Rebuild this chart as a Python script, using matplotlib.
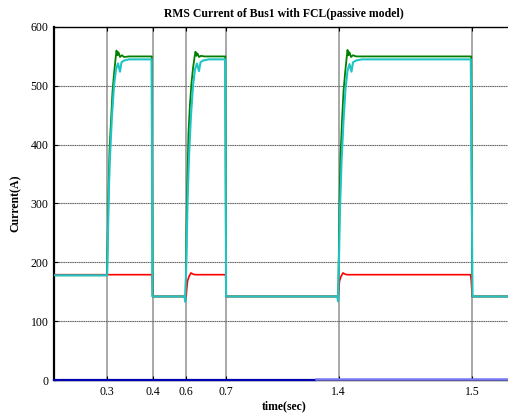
import numpy as np
import matplotlib
matplotlib.use("Agg")
import matplotlib.pyplot as plt

plt.rcParams.update({
    "font.family": "serif",
    "font.serif": ["Liberation Serif", "DejaVu Serif"],
    "font.size": 8.5,
})

# x is in sample units along the record; ticks carry the event times
tick_x = [53, 98.5, 132, 172, 284.5, 418, 460]
tick_labels = ["0.3", "0.4", "0.6", "0.7", "1.4", "1.5", "1.6"]

green_x = [0, 53, 53.5, 54.5, 55.5, 57, 58.5, 60, 61.5, 62.5, 63.5, 64.5, 66, 68, 70, 75,
           97.8, 98.6, 130.8, 131.4, 132, 132.5, 133.5, 134.5, 136, 137.5, 139, 140.5, 141.5,
           142.5, 143.5, 145, 147, 150, 171.3, 172.1, 283.6, 284.2, 284.7, 285.5, 286.5, 288,
           289.5, 291, 292.5, 293.5, 294.5, 295.5, 297, 299, 302, 417.2, 418.2, 460]
green_y = [178, 178, 230, 320, 390, 440, 490, 520, 545, 560, 552, 557, 549, 552, 549, 550,
           550, 142, 142, 136, 180, 260, 350, 420, 470, 505, 530, 548, 558,
           551, 555, 549, 551, 550, 550, 142, 142, 137, 200, 300, 380, 440,
           490, 520, 545, 561, 552, 557, 549, 552, 550, 550, 142, 142]

cyan_x = [0, 53.2, 54, 55, 56, 58, 60, 62, 64, 66, 67.5, 70, 75, 97.6, 98.5, 130.5, 131.2,
          132.2, 133.5, 135, 137, 139, 141, 143, 145, 146.5, 149, 155, 171.2, 172.1, 283.3,
          284, 284.8, 286, 287.5, 289.5, 291.5, 293.5, 295.5, 297.5, 299, 302, 308, 416.8,
          418.5, 460]
cyan_y = [178, 178, 250, 330, 380, 450, 500, 528, 538, 524, 540, 543, 545, 545, 142, 142, 133,
          190, 300, 380, 450, 500, 528, 538, 525, 540, 543, 545, 545, 142, 142,
          134, 190, 290, 370, 440, 495, 525, 537, 524, 540, 543, 545, 545,
          142, 142]

red_x = [0, 98.4, 98.8, 132.2, 132.6, 133.5, 135, 137, 139, 141, 171.6, 172.3, 284.2, 284.6,
         285.5, 287, 289, 291, 293, 416.5, 417.2, 418.2, 460]
red_y = [179, 179, 142, 142, 152, 168, 176, 182, 180, 179, 179, 142, 142, 152,
         168, 176, 182, 180, 179, 179, 170, 142, 142]

blue_x = [0, 262]
blue_y = [0, 0]
lblue_x = [262, 460]
lblue_y = [1.2, 1.2]

fig = plt.figure(figsize=(5.08, 4.15), dpi=100)
ax = fig.add_axes([54 / 508, 35 / 415, 460 / 508, 353 / 415])

ax.plot(green_x, green_y, color="#008000", lw=1.3, zorder=3)
ax.plot(red_x, red_y, color="#ff0000", lw=1.2, zorder=3)
ax.plot(cyan_x, cyan_y, color="#1fc4c4", lw=1.5, zorder=4)
ax.plot(blue_x, blue_y, color="#0000b0", lw=1.6, zorder=5, clip_on=False)
ax.plot(lblue_x, lblue_y, color="#7878f0", lw=1.8, zorder=5, clip_on=False)

ax.set_xlim(0, 460)
ax.set_ylim(0, 600)
ax.set_xticks(tick_x)
ax.set_xticklabels(tick_labels)
ax.set_yticks([0, 100, 200, 300, 400, 500, 600])

for x in tick_x:
    ax.axvline(x, color="#a8a8a8", lw=1.4, zorder=1)
for y in [100, 200, 300, 400, 500]:
    ax.axhline(y, color="#6a6a6a", lw=0.8, ls=(0, (1.5, 0.5)), zorder=1)

ax.tick_params(direction="in", length=3, width=0.8, top=True, right=True, pad=4)
for side in ["left", "bottom", "top", "right"]:
    ax.spines[side].set_linewidth(1.0)
ax.spines["left"].set_linewidth(1.6)

ax.set_title("RMS Current of Bus1 with FCL(passive model)", fontsize=8.5,
             fontweight="bold", pad=7)
ax.set_xlabel("time(sec)", fontsize=8.5, fontweight="bold", labelpad=2)
ax.set_ylabel("Current(A)", fontsize=8.5, fontweight="bold", labelpad=6)

fig.savefig("out.png", dpi=100, facecolor="white")
